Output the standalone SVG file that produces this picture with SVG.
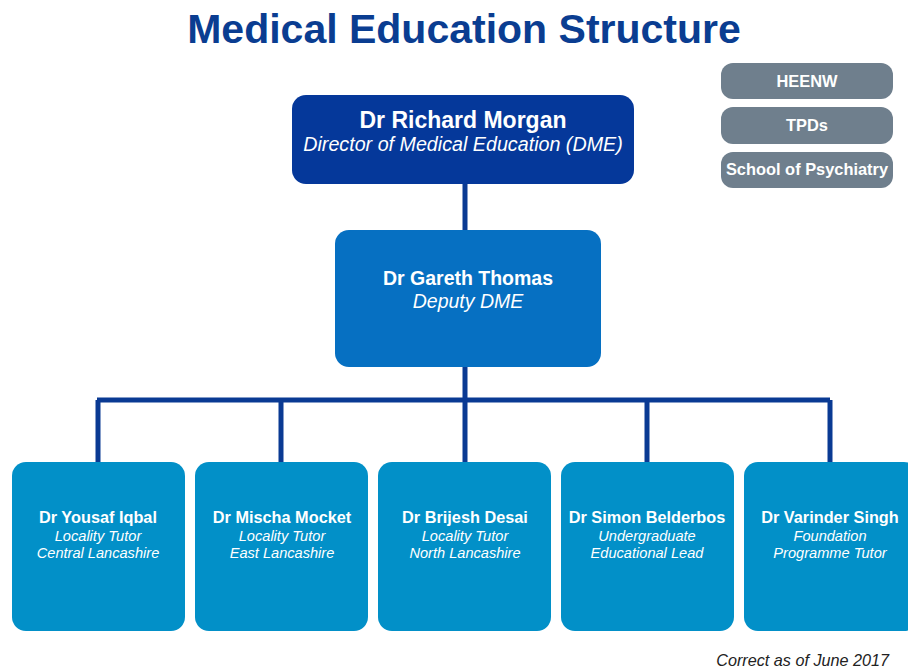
<svg xmlns="http://www.w3.org/2000/svg" width="908" height="668" viewBox="0 0 908 668">
<style>
text{font-family:"Liberation Sans",Arial,sans-serif;fill:#fff;text-anchor:middle}
.t{font-weight:bold;font-size:41px;fill:#0a3d91}
.n{font-weight:bold}
.r{font-style:italic}
.c{stroke:#0a3a93;fill:none;stroke-width:5}
.grey rect{fill:#6f7f8d}
.grey text{font-weight:bold;font-size:16.4px}
.leaf rect{fill:#0290c8}
.leaf .n{font-size:16.3px}
.leaf .r{font-size:14.6px}
.foot{fill:#222;font-style:italic;font-size:16.2px;text-anchor:end}
</style>
<rect width="908" height="668" fill="#fff"/>
<text class="t" x="464" y="43">Medical Education Structure</text>
<g id="connectors">
<path class="c" d="M465 184V230M465 367V400"/>
<path class="c" stroke-width="7" d="M97 400H830"/>
<path class="c" d="M98 400V462M281 400V462M465 400V462M647 400V462M830 400V462"/>
</g>
<g id="dme"><rect x="292" y="95" width="342" height="89" rx="14" fill="#05389a"/>
<text class="n" x="463" y="128" font-size="23">Dr Richard Morgan</text>
<text class="r" x="463" y="151" font-size="19.7">Director of Medical Education (DME)</text></g>
<g id="deputy"><rect x="335" y="230" width="266" height="137" rx="14" fill="#0670c2"/>
<text class="n" x="468" y="285" font-size="19.5">Dr Gareth Thomas</text>
<text class="r" x="468" y="308" font-size="19.5">Deputy DME</text></g>
<g id="heenw" class="grey"><rect x="721" y="63" width="172" height="36" rx="12"/><text x="807" y="87">HEENW</text></g>
<g id="tpds" class="grey"><rect x="721" y="107" width="172" height="37" rx="12"/><text x="807" y="131">TPDs</text></g>
<g id="school" class="grey"><rect x="721" y="152" width="172" height="36" rx="12"/><text x="807" y="175">School of Psychiatry</text></g>
<g id="iqbal" class="leaf"><rect x="12" y="462" width="173" height="169" rx="14"/>
<text class="n" x="98" y="523">Dr Yousaf Iqbal</text><text class="r" x="98" y="541">Locality Tutor</text><text class="r" x="98" y="558">Central Lancashire</text></g>
<g id="mocket" class="leaf"><rect x="195" y="462" width="173" height="169" rx="14"/>
<text class="n" x="282" y="523">Dr Mischa Mocket</text><text class="r" x="282" y="541">Locality Tutor</text><text class="r" x="282" y="558">East Lancashire</text></g>
<g id="desai" class="leaf"><rect x="378" y="462" width="173" height="169" rx="14"/>
<text class="n" x="465" y="523">Dr Brijesh Desai</text><text class="r" x="465" y="541">Locality Tutor</text><text class="r" x="465" y="558">North Lancashire</text></g>
<g id="belderbos" class="leaf"><rect x="561" y="462" width="173" height="169" rx="14"/>
<text class="n" x="647" y="523">Dr Simon Belderbos</text><text class="r" x="647" y="541">Undergraduate</text><text class="r" x="647" y="558">Educational Lead</text></g>
<g id="singh" class="leaf"><rect x="744" y="462" width="174" height="169" rx="14"/>
<text class="n" x="830" y="523">Dr Varinder Singh</text><text class="r" x="830" y="541">Foundation</text><text class="r" x="830" y="558">Programme Tutor</text></g>
<text class="foot" x="889" y="666">Correct as of June 2017</text>
</svg>
